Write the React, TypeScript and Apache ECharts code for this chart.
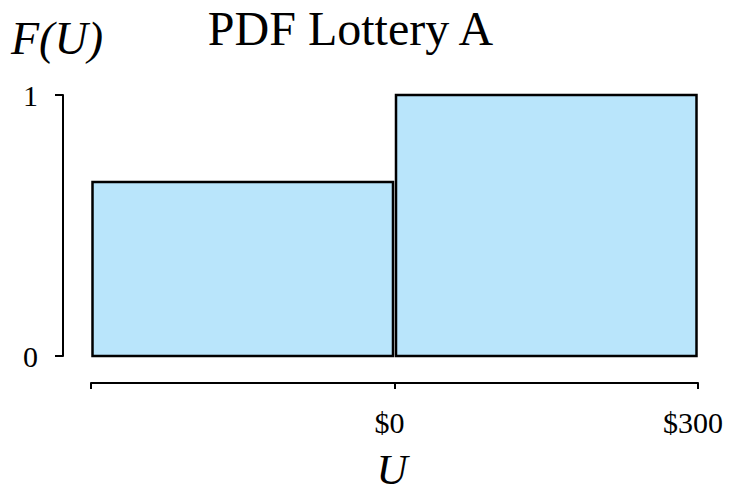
import React, { useEffect, useRef } from "react";
import * as echarts from "echarts";

const binStart = [-300, 0];
const binEnd = [0, 300];
const density = [0.667, 1];
const xTicks = [-300, 0, 300];
const xTickLabels = ["", "$0", "$300"];
const titleText = "PDF Lottery A";
const yName = "F(U)";
const xName = "U";

export default function App() {
  const ref = useRef<HTMLDivElement>(null);
  useEffect(() => {
    if (!ref.current) return;
    const chart = echarts.init(ref.current, null, { renderer: "svg" });
    const font = "'Liberation Serif', 'Times New Roman', serif";
    const data = binStart.map((s, i) => [s, binEnd[i], density[i]]);
    chart.setOption({
      animation: false,
      backgroundColor: "#ffffff",
      grid: { left: 91, right: 31, top: 95, bottom: 136 },
      xAxis: {
        type: "value",
        min: -300,
        max: 300,
        interval: 300,
        offset: 27,
        axisLine: { show: true, onZero: false, lineStyle: { color: "#000", width: 2 } },
        axisTick: { show: true, length: 6, lineStyle: { color: "#000", width: 2 } },
        splitLine: { show: false },
        axisLabel: {
          margin: 24,
          fontFamily: font,
          fontSize: 30,
          color: "#000",
          padding: [0, 10, 0, 0],
          formatter: (v: number) => {
            const i = xTicks.indexOf(v);
            return i >= 0 ? xTickLabels[i] : "";
          },
        },
      },
      yAxis: {
        type: "value",
        min: 0,
        max: 1,
        interval: 1,
        offset: 28,
        axisLine: { show: true, onZero: false, lineStyle: { color: "#000", width: 2 } },
        axisTick: { show: true, length: 8, lineStyle: { color: "#000", width: 2 } },
        splitLine: { show: false },
        axisLabel: { margin: 25, fontFamily: font, fontSize: 30, color: "#000", padding: [6, 0, 0, 0] },
      },
      graphic: [
        {
          type: "text",
          x: 350.5,
          y: 28,
          style: {
            text: titleText,
            fontFamily: font,
            fontSize: 48,
            fill: "#000",
            align: "center",
            verticalAlign: "middle",
          },
        },
        {
          type: "text",
          x: 11,
          y: 38,
          style: {
            text: yName,
            fontFamily: font,
            fontSize: 46,
            fontStyle: "italic",
            fill: "#000",
            align: "left",
            verticalAlign: "middle",
          },
        },
        {
          type: "text",
          x: 392,
          y: 469,
          style: {
            text: xName,
            fontFamily: font,
            fontSize: 43,
            fontStyle: "italic",
            fill: "#000",
            align: "center",
            verticalAlign: "middle",
          },
        },
      ],
      series: [
        {
          type: "custom",
          data,
          encode: { x: [0, 1], y: 2 },
          renderItem: (params: any, api: any) => {
            const p0 = api.coord([api.value(0), api.value(2)]);
            const p1 = api.coord([api.value(1), 0]);
            const inset = 1.5;
            return {
              type: "rect",
              shape: {
                x: p0[0] + inset,
                y: p0[1],
                width: p1[0] - p0[0] - 2 * inset,
                height: p1[1] - p0[1],
              },
              style: { fill: "#B9E5FB", stroke: "#000", lineWidth: 2.5 },
            };
          },
        },
      ],
    });
    return () => chart.dispose();
  }, []);
  return <div ref={ref} style={{ width: 729, height: 492, position: "absolute", left: 0, top: 0 }} />;
}
